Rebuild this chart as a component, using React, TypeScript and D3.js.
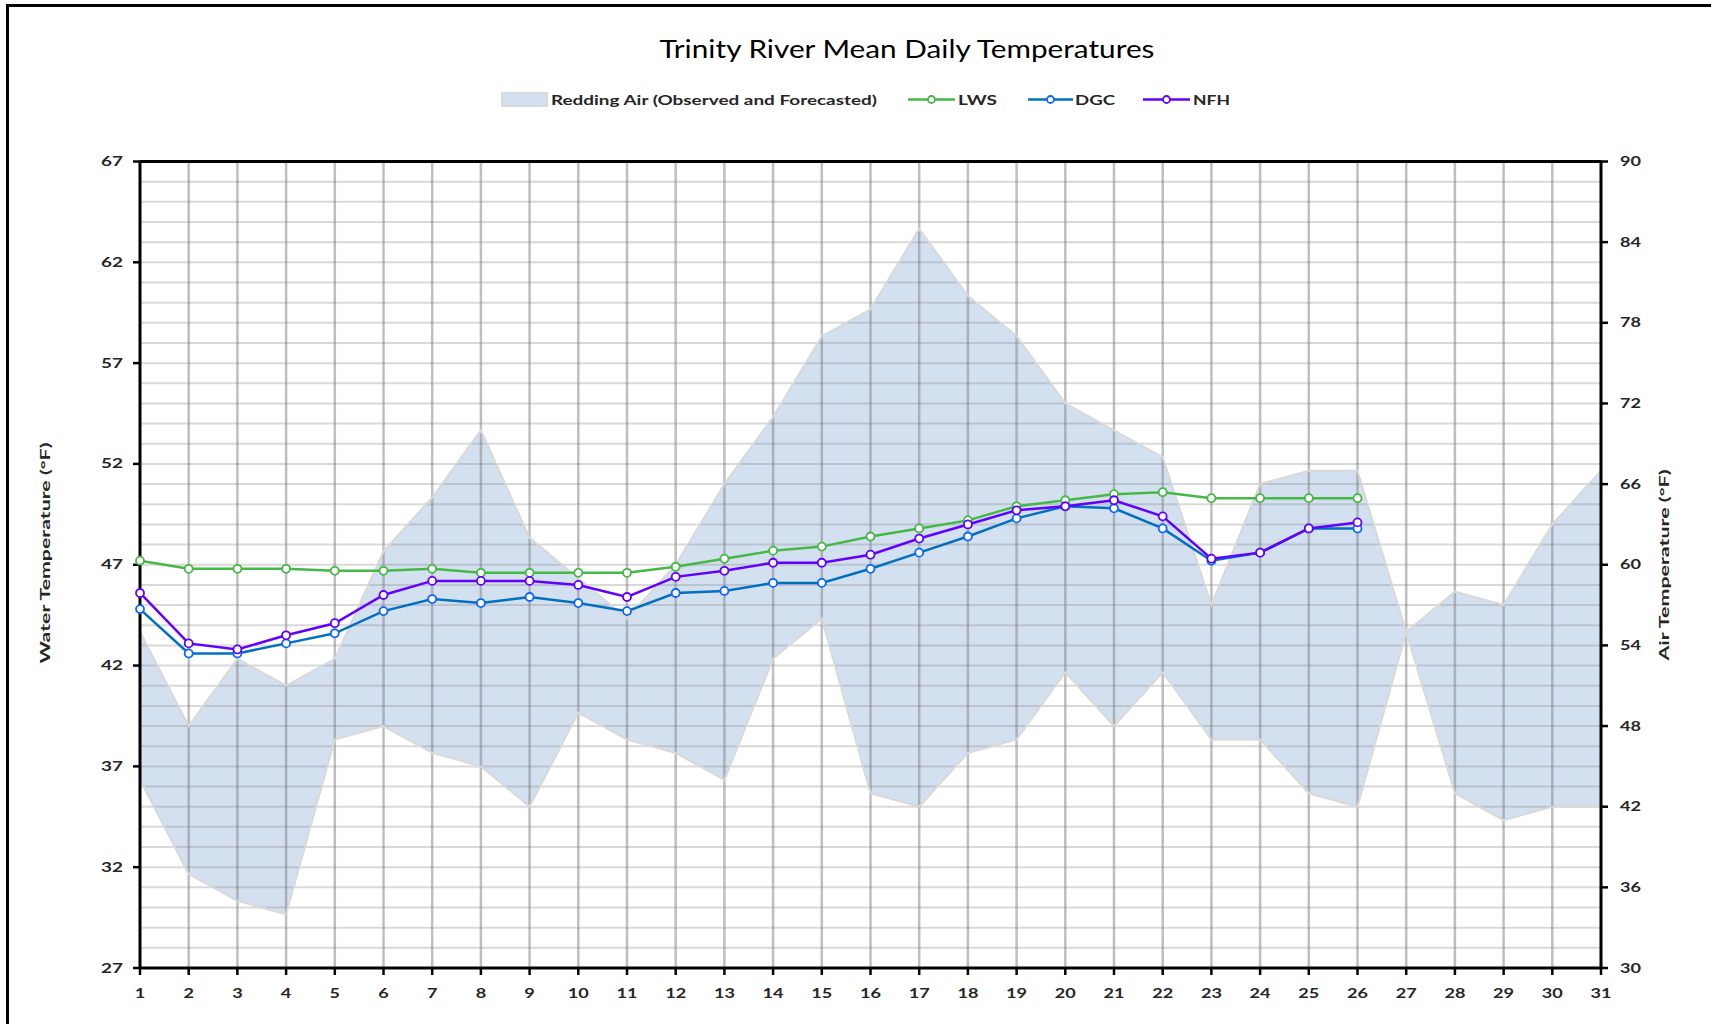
import React from "react";
import * as d3 from "d3";

const DAYS = [1, 2, 3, 4, 5, 6, 7, 8, 9, 10, 11, 12, 13, 14, 15, 16, 17, 18, 19, 20, 21, 22, 23, 24, 25, 26, 27, 28, 29, 30, 31];
const AIR_HIGH = [55, 48, 53, 51, 53, 61, 65, 70, 62, 59, 56, 60, 66, 71, 77, 79, 85, 80, 77, 72, 70, 68, 57, 66, 67, 67, 55, 58, 57, 63, 67];
const AIR_LOW = [44, 37, 35, 34, 47, 48, 46, 45, 42, 49, 47, 46, 44, 53, 56, 43, 42, 46, 47, 52, 48, 52, 47, 47, 43, 42, 55, 43, 41, 42, 42];
const LWS = [47.2, 46.8, 46.8, 46.8, 46.7, 46.7, 46.8, 46.6, 46.6, 46.6, 46.6, 46.9, 47.3, 47.7, 47.9, 48.4, 48.8, 49.2, 49.9, 50.2, 50.5, 50.6, 50.3, 50.3, 50.3, 50.3];
const DGC = [44.8, 42.6, 42.6, 43.1, 43.6, 44.7, 45.3, 45.1, 45.4, 45.1, 44.7, 45.6, 45.7, 46.1, 46.1, 46.8, 47.6, 48.4, 49.3, 49.9, 49.8, 48.8, 47.2, 47.6, 48.8, 48.8];
const NFH = [45.6, 43.1, 42.8, 43.5, 44.1, 45.5, 46.2, 46.2, 46.2, 46.0, 45.4, 46.4, 46.7, 47.1, 47.1, 47.5, 48.3, 49.0, 49.7, 49.9, 50.2, 49.4, 47.3, 47.6, 48.8, 49.1];
const WATER_TICKS = [27, 32, 37, 42, 47, 52, 57, 62, 67];
const AIR_TICKS = [30, 36, 42, 48, 54, 60, 66, 72, 78, 84, 90];
const TITLE = "Trinity River Mean Daily Temperatures";
const LEFT_TITLE = "Water Temperature (°F)";
const RIGHT_TITLE = "Air Temperature (°F)";
const AREA_LABEL = "Redding Air (Observed and Forecasted)";

const W = 1711;
const H = 1024;
const L = 140, R = 1601, TOP = 161.5, BOT = 968;

const FONT = "Lato, 'Open Sans', sans-serif";
const TXT = "#262626";

export default function App() {
  const x = d3.scaleLinear().domain([1, 31]).range([L, R]);
  const yW = d3.scaleLinear().domain([27, 67]).range([BOT, TOP]);
  const yA = d3.scaleLinear().domain([30, 90]).range([BOT, TOP]);

  const band = DAYS.map((d, i) => ({ d, lo: AIR_LOW[i], hi: AIR_HIGH[i] }));
  const areaGen = d3.area<any>().x((p) => x(p.d)).y0((p) => yA(p.lo)).y1((p) => yA(p.hi));
  const hiLine = d3.line<any>().x((p) => x(p.d)).y((p) => yA(p.hi));
  const loLine = d3.line<any>().x((p) => x(p.d)).y((p) => yA(p.lo));

  const series = [
    { name: "LWS", values: LWS, line: "#45b845", marker: "#45b845" },
    { name: "DGC", values: DGC, line: "#0070c0", marker: "#0a66ff" },
    { name: "NFH", values: NFH, line: "#6200ff", marker: "#6200ff" },
  ];
  const wLine = d3.line<number>().x((_, i) => x(DAYS[i])).y((v) => yW(v));

  const minorW = d3.range(28, 67); // gridline positions every 1°F of the water axis

  const legendSeries = [
    { name: "LWS", x0: 908, x1: 955, tx: 958, tl: 39 },
    { name: "DGC", x0: 1028, x1: 1073, tx: 1075, tl: 40 },
    { name: "NFH", x0: 1143, x1: 1190, tx: 1193, tl: 37 },
  ];

  return (
    <svg
      width={W}
      height={H}
      style={{ position: "absolute", left: 0, top: 0, background: "#fff" }}
      fontFamily={FONT}
    >
      <rect x={0} y={0} width={W} height={H} fill="#fff" />
      {/* outer frame */}
      <rect x={7.5} y={5.5} width={W + 20} height={H + 20} fill="none" stroke="#000" strokeWidth={3} />

      {/* title */}
      <text x={907} y={58} textAnchor="middle" fontSize={25} fill="#000" textLength={495} lengthAdjust="spacingAndGlyphs">
        {TITLE}
      </text>

      {/* legend */}
      <rect x={502} y={93} width={45} height={13} fill="#d3e0f0" stroke="#d9d9d9" strokeWidth={2} />
      <text x={551} y={105} fontSize={14} fontWeight={700} fill={TXT} textLength={326} lengthAdjust="spacingAndGlyphs">
        {AREA_LABEL}
      </text>
      {legendSeries.map((ls) => {
        const s = series.find((q) => q.name === ls.name)!;
        const cx = (ls.x0 + ls.x1) / 2;
        return (
          <g key={ls.name}>
            <line x1={ls.x0} x2={ls.x1} y1={99.5} y2={99.5} stroke={s.line} strokeWidth={2.5} />
            <circle cx={cx} cy={99.5} r={3.5} fill="#fff" stroke={s.marker} strokeWidth={1.8} />
            <text x={ls.tx} y={105} fontSize={14} fontWeight={700} fill={TXT} textLength={ls.tl} lengthAdjust="spacingAndGlyphs">
              {ls.name}
            </text>
          </g>
        );
      })}

      {/* air band */}
      <path d={areaGen(band)!} fill="#d3e0f0" />

      {/* gridlines */}
      {minorW.map((v) => (
        <line key={"h" + v} x1={L} x2={R} y1={yW(v)} y2={yW(v)} stroke="#808080" strokeOpacity={0.3} strokeWidth={2} />
      ))}
      {DAYS.slice(1, -1).map((d) => (
        <line key={"v" + d} x1={x(d)} x2={x(d)} y1={TOP} y2={BOT} stroke="#808080" strokeOpacity={0.5} strokeWidth={2.5} />
      ))}

      {/* band outlines */}
      <path d={hiLine(band)!} fill="none" stroke="#d9d9d9" strokeWidth={2} />
      <path d={loLine(band)!} fill="none" stroke="#d9d9d9" strokeWidth={2} />

      {/* axes frame */}
      <line x1={L} x2={R} y1={TOP} y2={TOP} stroke="#000" strokeWidth={3} />
      <line x1={L} x2={R} y1={BOT} y2={BOT} stroke="#000" strokeWidth={3} />
      <line x1={L} x2={L} y1={TOP} y2={BOT} stroke="#000" strokeWidth={3} />
      <line x1={R} x2={R} y1={TOP} y2={BOT} stroke="#000" strokeWidth={3} />

      {/* left ticks */}
      {WATER_TICKS.map((v) => (
        <g key={"lt" + v}>
          <line x1={L - 7} x2={L} y1={yW(v)} y2={yW(v)} stroke="#000" strokeWidth={2.5} />
          <text x={123} y={yW(v)} dy="0.35em" textAnchor="end" fontSize={13} fontWeight={700} fill={TXT} textLength={22} lengthAdjust="spacingAndGlyphs">
            {v}
          </text>
        </g>
      ))}
      {/* right ticks */}
      {AIR_TICKS.map((v) => (
        <g key={"rt" + v}>
          <line x1={R} x2={R + 7} y1={yA(v)} y2={yA(v)} stroke="#000" strokeWidth={2.5} />
          <text x={1620} y={yA(v)} dy="0.35em" textAnchor="start" fontSize={13} fontWeight={700} fill={TXT} textLength={21} lengthAdjust="spacingAndGlyphs">
            {v}
          </text>
        </g>
      ))}
      {/* bottom ticks */}
      {DAYS.map((d) => (
        <g key={"bt" + d}>
          <line x1={x(d)} x2={x(d)} y1={BOT} y2={BOT + 7} stroke="#000" strokeWidth={2.5} />
          <text x={x(d)} y={998} textAnchor="middle" fontSize={13} fontWeight={700} fill={TXT} textLength={String(d).length * 10.5} lengthAdjust="spacingAndGlyphs">
            {d}
          </text>
        </g>
      ))}

      {/* axis titles */}
      <text transform="translate(45,553) rotate(-90)" textAnchor="middle" dy="0.35em" fontSize={14} fontWeight={700} fill={TXT} textLength={221} lengthAdjust="spacingAndGlyphs">
        {LEFT_TITLE}
      </text>
      <text transform="translate(1664,565) rotate(-90)" textAnchor="middle" dy="0.35em" fontSize={14} fontWeight={700} fill={TXT} textLength={191} lengthAdjust="spacingAndGlyphs">
        {RIGHT_TITLE}
      </text>

      {/* water series */}
      {series.map((s) => (
        <g key={s.name}>
          <path d={wLine(s.values)!} fill="none" stroke={s.line} strokeWidth={2.5} />
          {s.values.map((v, i) => (
            <circle key={i} cx={x(DAYS[i])} cy={yW(v)} r={4} fill="#fff" stroke={s.marker} strokeWidth={1.8} />
          ))}
        </g>
      ))}
    </svg>
  );
}
